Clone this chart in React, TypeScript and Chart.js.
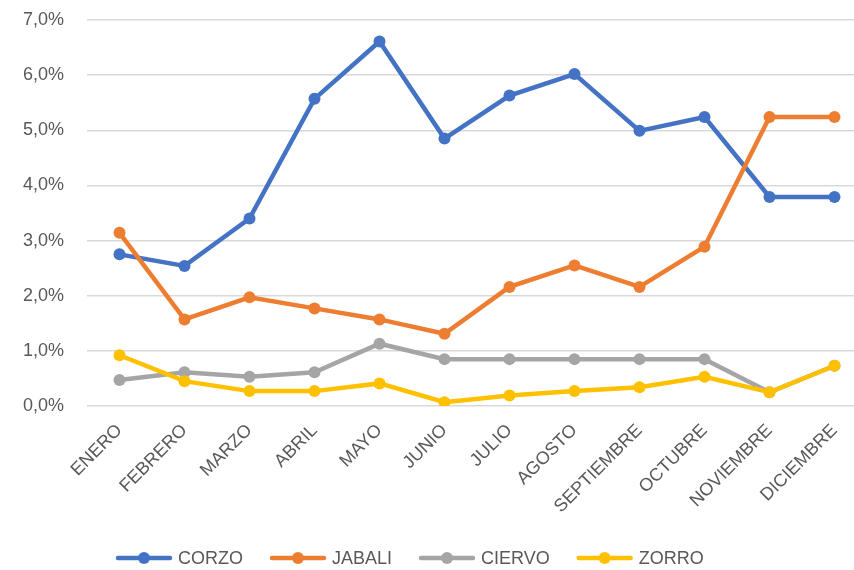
import React, { useEffect, useRef } from "react";
import { Chart, registerables } from "chart.js";

Chart.register(...registerables);

const MONTHS = ["ENERO", "FEBRERO", "MARZO", "ABRIL", "MAYO", "JUNIO", "JULIO", "AGOSTO", "SEPTIEMBRE", "OCTUBRE", "NOVIEMBRE", "DICIEMBRE"];
const CORZO = [2.75, 2.54, 3.40, 5.57, 6.61, 4.85, 5.63, 6.02, 4.99, 5.24, 3.79, 3.79];
const JABALI = [3.14, 1.57, 1.97, 1.77, 1.57, 1.31, 2.16, 2.55, 2.16, 2.89, 5.24, 5.24];
const CIERVO = [0.47, 0.61, 0.53, 0.61, 1.13, 0.85, 0.85, 0.85, 0.85, 0.85, 0.25, 0.73];
const ZORRO = [0.92, 0.45, 0.27, 0.27, 0.41, 0.07, 0.19, 0.27, 0.34, 0.53, 0.25, 0.73];
const SERIES_NAMES = ["CORZO", "JABALI", "CIERVO", "ZORRO"];
const SERIES_COLORS = ["#4472C4", "#ED7D31", "#A5A5A5", "#FFC000"];
const Y_MAX = 7;
const Y_STEP = 1;

const FONT = "'Liberation Sans', Arial, sans-serif";
const TEXT_COLOR = "#595959";

const legendPlugin = {
  id: "excelLegend",
  afterDraw(chart: any) {
    const ctx = chart.ctx;
    ctx.save();
    ctx.font = `18px ${FONT}`;
    ctx.textBaseline = "middle";
    ctx.textAlign = "left";
    const y = 558;
    let x = 118;
    chart.data.datasets.forEach((ds: any) => {
      const color = ds.borderColor;
      ctx.strokeStyle = color;
      ctx.lineWidth = 4.5;
      ctx.lineCap = "round";
      ctx.beginPath();
      ctx.moveTo(x, y);
      ctx.lineTo(x + 52, y);
      ctx.stroke();
      ctx.fillStyle = color;
      ctx.beginPath();
      ctx.arc(x + 26, y, 6, 0, Math.PI * 2);
      ctx.fill();
      ctx.fillStyle = TEXT_COLOR;
      ctx.fillText(ds.label, x + 60, y + 1);
      const w = ctx.measureText(ds.label).width;
      x = x + 60 + w + 29;
    });
    ctx.restore();
  },
};

export default function App() {
  const ref = useRef<HTMLCanvasElement | null>(null);
  useEffect(() => {
    if (!ref.current) return;
    const data = [CORZO, JABALI, CIERVO, ZORRO];
    const chart = new Chart(ref.current, {
      type: "line",
      data: {
        labels: MONTHS,
        datasets: SERIES_NAMES.map((name, i) => ({
          label: name,
          data: data[i],
          borderColor: SERIES_COLORS[i],
          backgroundColor: SERIES_COLORS[i],
          borderWidth: 4.5,
          pointRadius: 6,
          pointHoverRadius: 6,
          pointBorderWidth: 0,
          tension: 0,
          order: SERIES_NAMES.length - i,
        })),
      },
      options: {
        animation: false,
        responsive: false,
        layout: { padding: { left: 0, right: 13, top: 20, bottom: 39 } },
        plugins: {
          legend: { display: false },
          tooltip: { enabled: false },
        },
        scales: {
          x: {
            offset: true,
            grid: { display: false, drawTicks: false },
            border: { display: false },
            ticks: {
              minRotation: 45,
              maxRotation: 45,
              padding: 14,
              color: TEXT_COLOR,
              font: { family: FONT, size: 18 },
            },
            afterFit: (s: any) => {
              s.height = 125;
              s.paddingTop = 0;
              s.paddingBottom = 0;
            },
          },
          y: {
            min: 0,
            max: Y_MAX,
            grid: { color: "#D9D9D9", lineWidth: 1.5, drawTicks: false },
            border: { display: false },
            ticks: {
              stepSize: Y_STEP,
              padding: 23,
              color: TEXT_COLOR,
              font: { family: FONT, size: 18 },
              callback: (v: any) => Number(v).toFixed(1).replace(".", ",") + "%",
            },
            afterFit: (s: any) => {
              s.width = 87;
              s.paddingTop = 0;
              s.paddingBottom = 0;
            },
          },
        },
      },
      plugins: [legendPlugin],
    });
    return () => chart.destroy();
  }, []);
  return (
    <div style={{ position: "fixed", left: 0, top: 0, width: 854, height: 570, overflow: "hidden", background: "#fff" }}>
      <canvas ref={ref} width={880} height={570} style={{ display: "block" }} />
    </div>
  );
}
